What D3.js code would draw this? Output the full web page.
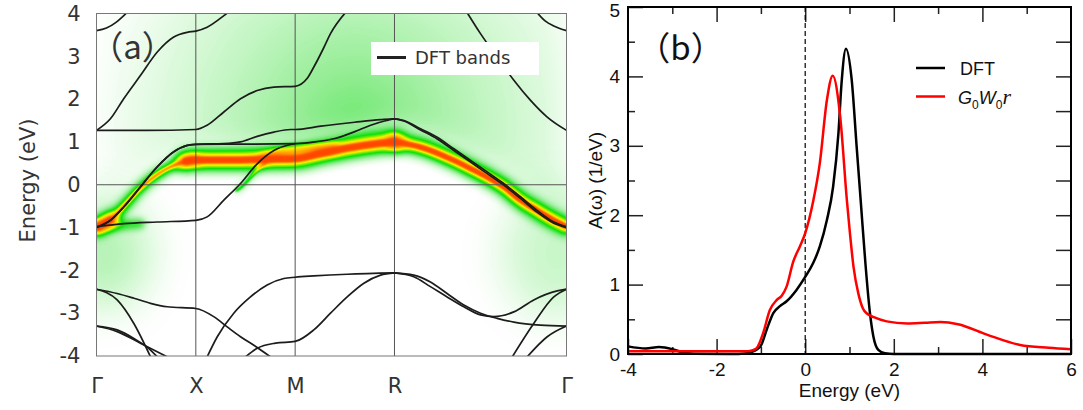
<!DOCTYPE html>
<html>
<head>
<meta charset="utf-8">
<script src="https://cdnjs.cloudflare.com/ajax/libs/d3/7.8.5/d3.min.js"></script>
<style>
  body { margin: 0; background: #fff; }
  .pa text { font-family: "DejaVu Sans", sans-serif; fill: #333; }
  .pb text { font-family: "Liberation Sans", Arial, sans-serif; fill: #111; }
</style>
</head>
<body>
<div id="chart"></div>
<script>
  // ---------------- panel (a) data: k-path, DFT bands, quasiparticle band ----------------
  var kPoints = [0, 0.5, 1.0, 1.5, 2.366];
  var kNames = ['Γ', 'X', 'M', 'R', 'Γ'];
  var eTicksA = [-4, -3, -2, -1, 0, 1, 2, 3, 4];

  // t2g bands [k, E]
  var bandT1 = [[0,-1.0],[0.07,-0.83],[0.137,-0.52],[0.221,-0.05],[0.306,0.42],[0.389,0.77],[0.457,0.92],[0.5,0.945],[0.641,0.95],[0.8,0.95],[1.0,0.96],[1.1,1.0],[1.2,1.08],[1.3,1.24],[1.38,1.39],[1.46,1.5],[1.5,1.54],[1.547,1.5],[1.631,1.31],[1.715,1.11],[1.799,0.84],[1.883,0.57],[1.967,0.3],[2.05,0.03],[2.134,-0.28],[2.218,-0.6],[2.302,-0.87],[2.366,-0.98]];
  var bandT2 = [[0,-1.0],[0.07,-0.83],[0.137,-0.52],[0.221,-0.05],[0.306,0.42],[0.389,0.77],[0.457,0.92],[0.5,0.945],[0.641,0.96],[0.725,1.0],[0.809,1.13],[0.893,1.23],[0.977,1.29],[1.0,1.29],[1.13,1.37],[1.3,1.46],[1.43,1.52],[1.5,1.54],[1.547,1.49],[1.631,1.28],[1.715,1.07],[1.799,0.8],[1.883,0.53],[1.967,0.26],[2.05,-0.01],[2.134,-0.32],[2.218,-0.64],[2.302,-0.9],[2.366,-1.0]];
  var bandT3 = [[0,-0.98],[0.137,-0.91],[0.306,-0.87],[0.5,-0.83],[0.557,-0.75],[0.641,-0.36],[0.725,0.03],[0.809,0.49],[0.893,0.8],[0.977,0.94],[1.0,0.96]];
  // upper bands
  var bandE1 = [[0,1.27],[0.25,1.27],[0.5,1.29],[0.557,1.39],[0.641,1.7],[0.725,2.01],[0.809,2.2],[0.893,2.28],[1.0,2.3],[1.06,2.48],[1.094,2.75],[1.144,3.2],[1.178,3.53],[1.253,4.02]];
  var bandE2 = [[0,1.27],[0.07,1.54],[0.137,2.01],[0.221,2.55],[0.306,3.1],[0.389,3.45],[0.457,3.56],[0.5,3.59],[0.557,3.68],[0.641,3.95],[0.66,4.02]];
  var bandE3 = [[0,3.6],[0.05,3.66],[0.1,3.8],[0.153,4.02]];
  var bandE4 = [[1.866,4.02],[1.933,3.53],[2.017,2.98],[2.101,2.44],[2.185,1.97],[2.269,1.58],[2.366,1.27]];
  var bandE5 = [[2.218,4.02],[2.26,3.82],[2.302,3.71],[2.366,3.6]];
  // lower bands
  var bandL1 = [[0,-2.44],[0.104,-2.54],[0.188,-2.65],[0.272,-2.77],[0.356,-2.85],[0.5,-2.89],[0.59,-3.08],[0.658,-3.32],[0.725,-3.55],[0.792,-3.75],[0.876,-4.02]];
  var bandL2 = [[0.557,-4.02],[0.608,-3.55],[0.691,-3.0],[0.775,-2.62],[0.859,-2.34],[0.943,-2.19],[1.0,-2.16],[1.094,-2.13],[1.262,-2.09],[1.5,-2.06]];
  var bandL3 = [[0.75,-4.02],[0.809,-3.82],[0.901,-3.7],[1.0,-3.66],[1.094,-3.39],[1.178,-3.0],[1.262,-2.62],[1.346,-2.3],[1.43,-2.11],[1.5,-2.06]];
  var bandL4 = [[1.5,-2.06],[1.597,-2.15],[1.681,-2.38],[1.765,-2.62],[1.849,-2.85],[1.933,-3.04],[2.0,-3.08],[2.101,-2.97],[2.201,-2.69],[2.319,-2.48],[2.366,-2.44]];
  var bandL5 = [[1.5,-2.06],[1.597,-2.11],[1.681,-2.27],[1.765,-2.54],[1.849,-2.81],[1.933,-3.0],[2.017,-3.12],[2.101,-3.21],[2.235,-3.28],[2.366,-3.3]];
  var bandL6 = [[2.093,-4.02],[2.201,-3.24],[2.302,-2.62],[2.366,-2.44]];
  var bandL7 = [[2.168,-4.02],[2.269,-3.55],[2.366,-3.3]];
  var bandL8 = [[0,-2.44],[0.104,-2.69],[0.188,-3.24],[0.272,-4.02]];
  var bandL9 = [[0,-3.3],[0.104,-3.39],[0.188,-3.59],[0.272,-3.86],[0.306,-4.02]];
  var bandL10 = [[0,-3.3],[0.104,-3.43],[0.221,-3.7],[0.356,-4.02]];
  var dftBands = [bandT1, bandT2, bandT3, bandE1, bandE2, bandE3, bandE4, bandE5,
                  bandL1, bandL2, bandL3, bandL4, bandL5, bandL6, bandL7, bandL8, bandL9, bandL10];

  // quasiparticle (spectral function) ridges [k, E]
  var qpMain = [[0,-1.0],[0.07,-0.82],[0.137,-0.5],[0.221,-0.08],[0.306,0.24],[0.389,0.45],[0.45,0.55],[0.5,0.58],[0.6,0.58],[0.7,0.58],[0.8,0.59],[0.9,0.6],[1.0,0.61],[1.128,0.73],[1.295,0.88],[1.43,0.97],[1.5,1.0],[1.631,0.88],[1.799,0.57],[1.883,0.38],[1.967,0.18],[2.05,-0.05],[2.134,-0.36],[2.218,-0.6],[2.302,-0.83],[2.366,-0.98]];
  var qpFlat = [[0,-0.99],[0.1,-0.95],[0.22,-0.91]];
  var qpRise = [[0.7,-0.15],[0.725,-0.07],[0.809,0.34],[0.86,0.55]];
  var qpUpper = [[0.84,0.62],[0.92,0.74],[1.0,0.8],[1.1,0.84],[1.2,0.86]];

  // ---------------- panel (b) data: spectral function A(w) ----------------
  var dftE = [-4,-3.6,-3.3,-3.0,-2.8,-2.5,-1.5,-1.2,-1.1,-1.0,-0.87,-0.72,-0.57,-0.42,-0.2,0.0,0.18,0.33,0.49,0.63,0.75,0.82,0.92,1.05,1.16,1.26,1.36,1.46,1.54,1.65,1.8,2.0,6.0];
  var dftA = [0.11,0.08,0.1,0.07,0.03,0.005,0.0,0.03,0.06,0.12,0.35,0.59,0.69,0.76,0.92,1.11,1.31,1.55,1.93,2.41,3.18,3.9,4.4,3.95,3.0,2.15,1.3,0.6,0.25,0.06,0.01,0.0,0.0];
  var gwE = [-4,-1.3,-1.2,-1.1,-0.95,-0.8,-0.64,-0.53,-0.42,-0.27,-0.12,0.0,0.18,0.33,0.49,0.62,0.79,0.94,1.01,1.09,1.2,1.3,1.4,1.55,1.84,2.3,2.7,3.05,3.45,4.1,4.85,5.5,6.0];
  var gwA = [0.04,0.04,0.05,0.08,0.3,0.63,0.78,0.84,0.97,1.33,1.55,1.74,2.2,2.75,3.66,4.01,3.42,2.22,1.74,1.26,0.87,0.66,0.58,0.53,0.47,0.44,0.45,0.46,0.43,0.28,0.13,0.09,0.07];
  var xTicksB = [-4, -2, 0, 2, 4, 6];
  var yTicksB = [0, 1, 2, 3, 4, 5];

  var W = 1083, H = 410;
  var svg = d3.select('#chart').append('svg').attr('width', W).attr('height', H);
  var defs = svg.append('defs');

  /******************************** Panel (a) ********************************/
  var xA = d3.scaleLinear().domain([0, 2.366]).range([96.5, 566.5]);
  var yA = d3.scaleLinear().domain([-4, 4]).range([356, 13.5]);
  var gA = svg.append('g').attr('class', 'pa');

  defs.append('clipPath').attr('id', 'clipA').append('rect')
      .attr('x', xA(0)).attr('y', yA(4)).attr('width', xA(2.366) - xA(0)).attr('height', yA(-4) - yA(4));

  function blur(id, sd) {
    defs.append('filter').attr('id', id).attr('filterUnits', 'userSpaceOnUse')
        .attr('x', 0).attr('y', 0).attr('width', W).attr('height', H)
        .append('feGaussianBlur').attr('stdDeviation', sd);
  }
  blur('b1', 1.3); blur('b3', 3); blur('b5', 5); blur('b14', 14); blur('b22', 22);

  // colormap: intensity (alpha) -> white / green / yellow / red
  var cmap = defs.append('filter').attr('id', 'cmap').attr('filterUnits', 'userSpaceOnUse')
      .attr('color-interpolation-filters', 'sRGB')
      .attr('x', xA(0)).attr('y', yA(4)).attr('width', xA(2.366) - xA(0)).attr('height', yA(-4) - yA(4));
  cmap.append('feColorMatrix').attr('type', 'matrix')
      .attr('values', '0 0 0 1 0  0 0 0 1 0  0 0 0 1 0  0 0 0 0 1');
  var ct = cmap.append('feComponentTransfer');
  ct.append('feFuncR').attr('type', 'table').attr('tableValues', '1 0.8 0.58 0.3 0.05 0.45 0.95 1 1 1 1');
  ct.append('feFuncG').attr('type', 'table').attr('tableValues', '1 0.97 0.93 0.9 0.88 0.92 0.95 0.78 0.52 0.33 0.26');
  ct.append('feFuncB').attr('type', 'table').attr('tableValues', '1 0.8 0.58 0.3 0.05 0 0 0 0 0 0');

  var glow = defs.append('radialGradient').attr('id', 'glow').attr('gradientUnits', 'userSpaceOnUse')
      .attr('cx', xA(1.3)).attr('cy', yA(1.4)).attr('r', 260);
  glow.append('stop').attr('offset', 0).attr('stop-color', '#000').attr('stop-opacity', 0.26);
  glow.append('stop').attr('offset', 0.45).attr('stop-color', '#000').attr('stop-opacity', 0.13);
  glow.append('stop').attr('offset', 1).attr('stop-color', '#000').attr('stop-opacity', 0.01);

  var lineA = d3.line().x(function(d) { return xA(d[0]); }).y(function(d) { return yA(d[1]); })
      .curve(d3.curveMonotoneX);
  var areaA = d3.area().x(function(d) { return xA(d[0]); })
      .y0(yA(4.5)).y1(function(d) { return yA(d[1] + 0.25); }).curve(d3.curveMonotoneX);

  var heat = gA.append('g').attr('filter', 'url(#cmap)');
  heat.append('rect').attr('x', 0).attr('y', 0).attr('width', W).attr('height', H).attr('fill', '#000').attr('fill-opacity', 0);
  heat.append('path').attr('d', areaA(qpMain)).attr('fill', 'url(#glow)').attr('filter', 'url(#b14)');
  // faint glow below the band bottom at both Gamma points
  [[0.04, -1.6, 45, 55, 0.14], [2.32, -1.6, 55, 65, 0.1]].forEach(function(c) {
    heat.append('ellipse').attr('cx', xA(c[0])).attr('cy', yA(c[1])).attr('rx', c[2]).attr('ry', c[3])
        .attr('fill', '#000').attr('fill-opacity', c[4]).attr('filter', 'url(#b22)');
  });

  function ridge(pts, width, op, filt, cap) {
    heat.append('path').attr('d', lineA(pts)).attr('fill', 'none').attr('stroke', '#000')
        .attr('stroke-width', width).attr('stroke-opacity', op).attr('stroke-linecap', cap || 'round')
        .attr('filter', 'url(#' + filt + ')');
  }
  var segG = qpMain.filter(function(d) { return d[0] <= 0.07; });
  var segGX = qpMain.filter(function(d) { return d[0] <= 0.5; });
  var segXR = qpMain.filter(function(d) { return d[0] >= 0.45 && d[0] <= 1.5; });
  var segRG = qpMain.filter(function(d) { return d[0] >= 1.5; });
  // [segment, width scale, opacity scale]
  [[segGX, 0.5, 0.75], [segG, 0.8, 1.0], [segXR, 1.0, 1.0], [segRG, 0.8, 0.95]].forEach(function(s) {
    ridge(s[0], 24 * s[1], 0.4 * s[2], 'b5');
    ridge(s[0], 12 * s[1], 0.6 * s[2], 'b3');
    ridge(s[0], 6 * s[1], 0.9 * s[2], 'b1');
  });
  ridge(qpFlat, 10, 0.3, 'b3');
  ridge(qpRise, 6, 0.2, 'b3', 'butt');
  ridge(qpRise, 2, 0.55, 'b1', 'butt');
  ridge(qpUpper, 10, 0.5, 'b3');

  // grid lines at high-symmetry points and at E_F
  gA.selectAll('.kline').data(kPoints.slice(1, 4)).enter().append('line')
      .attr('x1', function(d) { return xA(d); }).attr('x2', function(d) { return xA(d); })
      .attr('y1', yA(4)).attr('y2', yA(-4)).attr('stroke', '#555').attr('stroke-width', 1);
  gA.append('line').attr('x1', xA(0)).attr('x2', xA(2.366)).attr('y1', yA(0)).attr('y2', yA(0))
      .attr('stroke', '#555').attr('stroke-width', 1);

  // DFT bands
  gA.append('g').attr('clip-path', 'url(#clipA)').selectAll('path').data(dftBands).enter().append('path')
      .attr('d', lineA).attr('fill', 'none').attr('stroke', '#1c1c1c').attr('stroke-width', 1.7);

  gA.append('rect').attr('x', xA(0)).attr('y', yA(4)).attr('width', xA(2.366) - xA(0)).attr('height', yA(-4) - yA(4))
      .attr('fill', 'none').attr('stroke', '#777').attr('stroke-width', 1);

  // axes (labels only)
  var yAxA = gA.append('g').attr('transform', 'translate(' + xA(0) + ',0)')
      .call(d3.axisLeft(yA).tickValues(eTicksA).tickSize(0).tickPadding(16).tickFormat(function(d) { return String(d); }));
  yAxA.select('.domain').remove();
  yAxA.selectAll('text').attr('font-size', 21).style('font-family', '"DejaVu Sans", sans-serif').attr('fill', '#333');
  var xAxA = gA.append('g').attr('transform', 'translate(0,' + yA(-4) + ')')
      .call(d3.axisBottom(xA).tickValues(kPoints).tickSize(0).tickPadding(22).tickFormat(function(d, i) { return kNames[i]; }));
  xAxA.select('.domain').remove();
  xAxA.selectAll('text').attr('font-size', 21).style('font-family', '"DejaVu Sans", sans-serif').attr('fill', '#333');

  gA.append('text').attr('transform', 'translate(28,' + yA(0.1) + ') rotate(-90)')
      .attr('text-anchor', 'middle').attr('dy', '0.35em').attr('font-size', 21).text('Energy (eV)');
  gA.append('text').attr('x', 132.5).attr('y', 58.5).attr('text-anchor', 'middle')
      .style('font-family', '"Noto Sans CJK SC", sans-serif').attr('font-size', 33).attr('fill', '#222').text('（a）');

  // legend
  gA.append('rect').attr('x', 371).attr('y', 42).attr('width', 168).attr('height', 33).attr('fill', '#fff');
  gA.append('line').attr('x1', 377).attr('x2', 406).attr('y1', 57.5).attr('y2', 57.5).attr('stroke', '#222').attr('stroke-width', 3);
  gA.append('text').attr('x', 415).attr('y', 64).attr('font-size', 18).attr('fill', '#222').text('DFT bands');

  /******************************** Panel (b) ********************************/
  var xB = d3.scaleLinear().domain([-4, 6]).range([628, 1071]);
  var yB = d3.scaleLinear().domain([0, 5]).range([354, 7]);
  var gB = svg.append('g').attr('class', 'pb');

  function axisG(axis, tx, ty) {
    var g = gB.append('g').attr('transform', 'translate(' + tx + ',' + ty + ')').call(axis);
    g.select('.domain').remove();
    g.selectAll('line').attr('stroke', '#222').attr('stroke-width', 1.5);
    g.selectAll('text').attr('font-size', 19).style('font-family', '"Liberation Sans", Arial, sans-serif').attr('fill', '#111');
    return g;
  }
  var noLab = function() { return ''; };
  var xMinor = [-3, -1, 1, 3, 5];
  var yMinor = [0.5, 1.5, 2.5, 3.5, 4.5];
  var yAll = d3.range(0.5, 5, 0.5);
  axisG(d3.axisBottom(xB).tickValues(xTicksB).tickSize(-15).tickPadding(9).tickFormat(function(d) { return String(d); }), 0, yB(0));
  axisG(d3.axisBottom(xB).tickValues(xMinor).tickSize(-7).tickFormat(noLab), 0, yB(0));
  axisG(d3.axisTop(xB).tickValues(xTicksB.slice(1, 5)).tickSize(-15).tickFormat(noLab), 0, yB(5));
  axisG(d3.axisTop(xB).tickValues(xMinor).tickSize(-7).tickFormat(noLab), 0, yB(5));
  var yAxB = axisG(d3.axisLeft(yB).tickValues(yTicksB).tickSize(-15).tickPadding(8).tickFormat(function(d) { return String(d); }), xB(-4), 0);
  yAxB.selectAll('text').filter(function(d) { return d === 5; }).attr('dy', '0.5em');
  axisG(d3.axisLeft(yB).tickValues(yMinor).tickSize(-7).tickFormat(noLab), xB(-4), 0);
  axisG(d3.axisRight(yB).tickValues(yAll).tickSize(-15).tickFormat(noLab), xB(6), 0);

  gB.append('line').attr('x1', xB(0)).attr('x2', xB(0)).attr('y1', yB(5)).attr('y2', yB(0))
      .attr('stroke', '#000').attr('stroke-width', 1.2).attr('stroke-dasharray', '5,3');

  var lineB = d3.line().x(function(d) { return xB(d[0]); }).y(function(d) { return yB(d[1]); })
      .curve(d3.curveMonotoneX);
  var dftSeries = dftE.map(function(e, i) { return [e, dftA[i]]; });
  var gwSeries = gwE.map(function(e, i) { return [e, gwA[i]]; });
  gB.append('path').attr('d', lineB(dftSeries)).attr('fill', 'none').attr('stroke', '#000').attr('stroke-width', 2.5);
  gB.append('path').attr('d', lineB(gwSeries)).attr('fill', 'none').attr('stroke', '#f00').attr('stroke-width', 2.5);

  gB.append('rect').attr('x', xB(-4)).attr('y', yB(5)).attr('width', xB(6) - xB(-4)).attr('height', yB(0) - yB(5))
      .attr('fill', 'none').attr('stroke', '#000').attr('stroke-width', 2);

  gB.append('text').attr('x', (xB(-4) + xB(6)) / 2).attr('y', 397).attr('text-anchor', 'middle')
      .attr('font-size', 19).text('Energy (eV)');
  gB.append('text').attr('transform', 'translate(595,' + yB(2.5) + ') rotate(-90)')
      .attr('text-anchor', 'middle').attr('dy', '0.35em').attr('font-size', 19).text('A(ω) (1/eV)');
  gB.append('text').attr('x', 680.5).attr('y', 60).attr('text-anchor', 'middle')
      .style('font-family', '"Noto Sans CJK SC", sans-serif').attr('font-size', 33).attr('fill', '#222').text('（b）');

  // legend
  gB.append('line').attr('x1', 916).attr('x2', 945).attr('y1', 68).attr('y2', 68).attr('stroke', '#000').attr('stroke-width', 2.5);
  gB.append('text').attr('x', 960).attr('y', 74.5).attr('font-size', 18).text('DFT');
  gB.append('line').attr('x1', 916).attr('x2', 945).attr('y1', 96.5).attr('y2', 96.5).attr('stroke', '#f00').attr('stroke-width', 2.5);
  var lg = gB.append('text').attr('x', 958).attr('y', 104).attr('font-size', 18);
  lg.append('tspan').attr('font-style', 'italic').text('G');
  lg.append('tspan').attr('font-size', 12).attr('dy', 5).text('0');
  lg.append('tspan').attr('font-style', 'italic').attr('dy', -5).text('W');
  lg.append('tspan').attr('font-size', 12).attr('dy', 5).text('0');
  lg.append('tspan').attr('font-style', 'italic').attr('dy', -5).attr('font-size', 22)
      .style('font-family', '"Liberation Serif", serif').text('r');
</script>
</body>
</html>
